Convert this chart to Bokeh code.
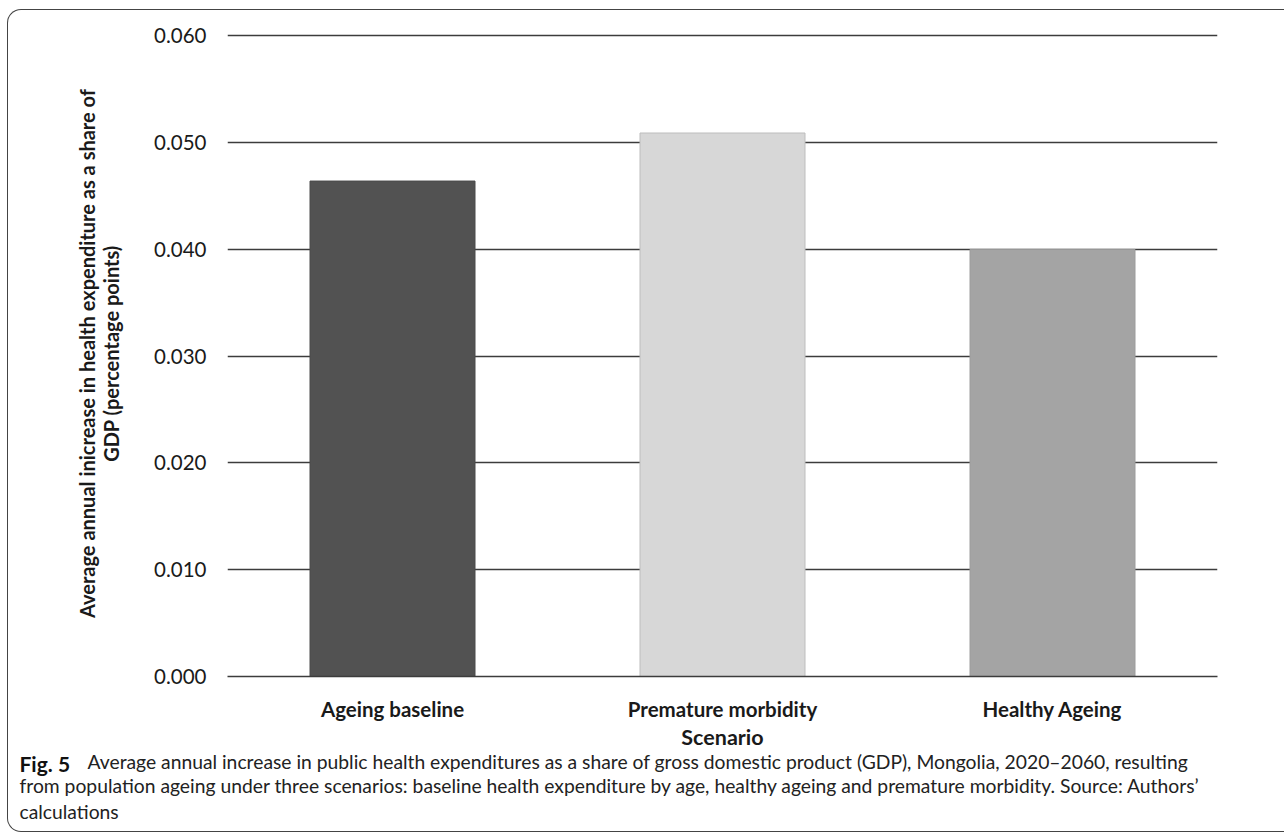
from bokeh.plotting import figure
from bokeh.models import (ColumnDataSource, FactorRange, Range1d, FixedTicker,
                          NumeralTickFormatter, Label, InlineStyleSheet)
from bokeh.embed import file_html
from bokeh.resources import INLINE

# ---- data ----
categories = ["Ageing baseline", "Premature morbidity", "Healthy Ageing"]
values = [0.0464, 0.0509, 0.0400]
y_ticks = [0.0, 0.01, 0.02, 0.03, 0.04, 0.05, 0.06]
y_label = "Average annual inicrease in health expenditure as a share of\nGDP (percentage points)"
x_label = "Scenario"
caption_head = "Fig. 5"
caption_lines = [
    "Average annual increase in public health expenditures as a share of gross domestic product (GDP), Mongolia, 2020\u20132060, resulting",
    "from population ageing under three scenarios: baseline health expenditure by age, healthy ageing and premature morbidity. Source: Authors\u2019",
    "calculations",
]

# ---- styles ----
bar_fill = ["#525252", "#d7d7d7", "#a4a4a4"]
bar_line = ["#4a4a4a", "#bdbdbd", "#9c9c9c"]
FONT = "Lato"
CAP_FONT = "Lato"

src = ColumnDataSource(dict(cat=categories, val=values, fill=bar_fill, line=bar_line))

p = figure(
    x_range=FactorRange(*categories, range_padding=0),
    y_range=Range1d(0, 0.0605),
    frame_width=990, frame_height=646,
    min_border_left=227, min_border_right=67,
    min_border_top=30, min_border_bottom=160,
    output_backend="svg", toolbar_location=None,
    background_fill_color="white", border_fill_color="white",
)
p.outline_line_color = None

p.vbar(x="cat", top="val", width=0.5, source=src,
       fill_color="fill", line_color="line", line_width=1)

# grid
p.xgrid.grid_line_color = None
p.ygrid.grid_line_color = "#3c3c3c"
p.ygrid.grid_line_width = 1.6
p.ygrid.ticker = FixedTicker(ticks=y_ticks)

# y axis
p.yaxis.ticker = FixedTicker(ticks=y_ticks)
p.yaxis.formatter = NumeralTickFormatter(format="0.000")
p.yaxis.axis_line_color = None
p.yaxis.major_tick_line_color = None
p.yaxis.minor_tick_line_color = None
p.yaxis.major_tick_out = 0
p.yaxis.major_tick_in = 0
p.yaxis.major_label_standoff = 21
p.yaxis.major_label_text_font = FONT
p.yaxis.major_label_text_font_size = "20.5px"
p.yaxis.major_label_text_color = "#1a1a1a"
p.yaxis.axis_label = y_label
p.yaxis.axis_label_text_font = FONT
p.yaxis.axis_label_text_font_size = "20px"
p.yaxis.axis_label_text_font_style = "bold"
p.yaxis.axis_label_text_color = "#1a1a1a"
p.yaxis.axis_label_text_line_height = 1.0
p.yaxis.axis_label_standoff = 28

# x axis
p.xaxis.axis_line_color = "#3c3c3c"
p.xaxis.axis_line_width = 1.6
p.xaxis.major_tick_line_color = None
p.xaxis.minor_tick_line_color = None
p.xaxis.major_tick_out = 0
p.xaxis.major_tick_in = 0
p.xaxis.major_label_standoff = 20
p.xaxis.major_label_text_font = FONT
p.xaxis.major_label_text_font_size = "20.5px"
p.xaxis.major_label_text_font_style = "bold"
p.xaxis.major_label_text_color = "#1a1a1a"
p.xaxis.axis_label = x_label
p.xaxis.axis_label_text_font = FONT
p.xaxis.axis_label_text_font_size = "21.5px"
p.xaxis.axis_label_text_font_style = "bold"
p.xaxis.axis_label_text_color = "#1a1a1a"
p.xaxis.axis_label_standoff = 0

# caption
cap_style = dict(x_units="screen", y_units="screen", text_font=CAP_FONT,
                 text_baseline="middle", text_align="left")
# "Fig. 5" in the right side panel (its left edge is the frame's right edge)
p.add_layout(Label(x=-1198, y=-87, text=caption_head, text_font_style="bold",
                   text_font_size="21px", text_color="#111111", **cap_style), "right")
# caption text in the below side panels
p.add_layout(Label(x=-140, y=14, text=caption_lines[0], text_color="#222222",
                   text_font_size="19.3px", **cap_style), "below")
p.add_layout(Label(x=-208, y=25, text=caption_lines[1] + "\n" + caption_lines[2],
                   text_color="#222222", text_font_size="19.3px",
                   text_line_height=1.1, **cap_style), "below")

# rounded outer frame of the figure
p.stylesheets = [InlineStyleSheet(css="""
:host { position: relative; }
:host::after {
  content: ""; position: absolute; left: 7px; top: 9px; right: 0px; bottom: 4px;
  border: 1.5px solid #444444; border-right: none;
  border-radius: 14px 0 0 14px; pointer-events: none; z-index: 10;
}
""")]

open("out.html", "w").write(file_html(p, INLINE))
